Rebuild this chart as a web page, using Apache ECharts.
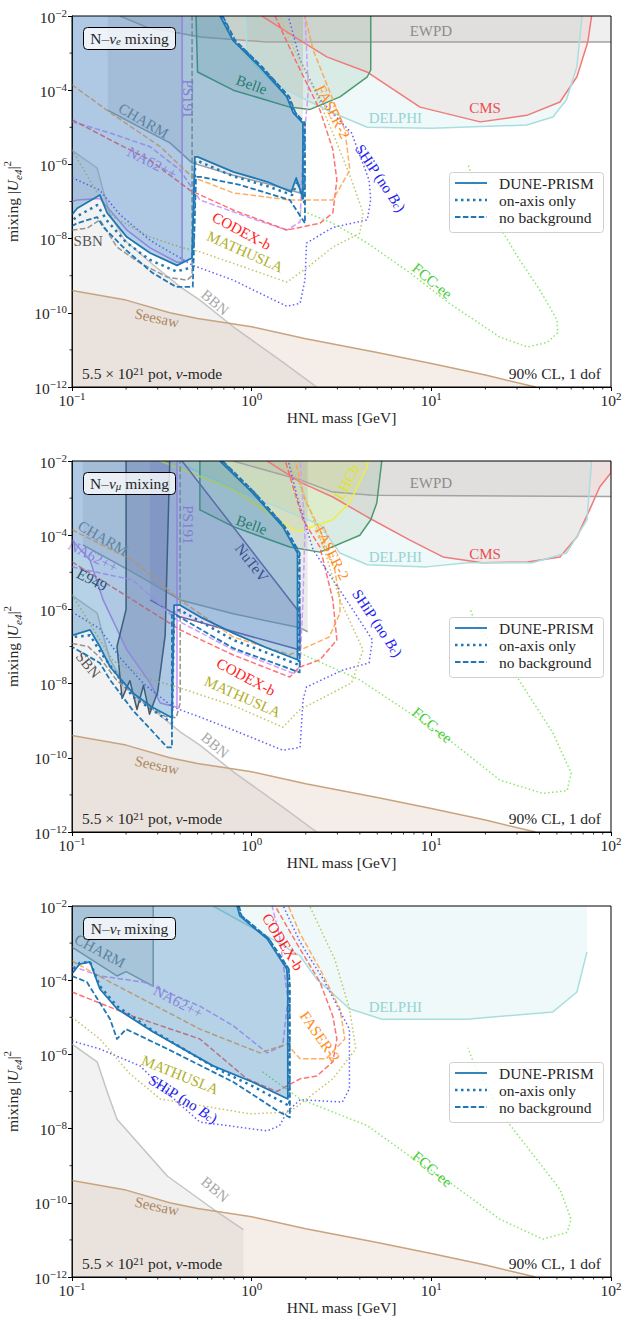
<!DOCTYPE html>
<html>
<head>
<meta charset="utf-8">
<script src="https://cdn.jsdelivr.net/npm/echarts@6.0.0/dist/echarts.min.js"></script>
<style>html,body{margin:0;padding:0;background:#fff;}#chart{width:623px;height:1318px;}</style>
</head>
<body>
<div id="chart"></div>
<script>
// ================= DATA (mass in GeV, |U|^2) =================
const xMinorTicks = [0.2,0.3,0.4,0.5,0.6,0.7,0.8,0.9,2,3,4,5,6,7,8,9,20,30,40,50,60,70,80,90];
const yMinorTicks = [1e-11,1e-9,1e-7,1e-5,1e-3];
const panelTitles = ['e', 'μ', 'τ'];

// shared
const seesaw = [[0.1,4e-10],[0.2,2.2e-10],[0.35,1e-10],[0.5,7e-11],[0.7,5.5e-11],[1,4.2e-11],[2,2e-11],[5,8.5e-12],[10,4.3e-12],[20,2.1e-12],[38,1e-12]];

// ---------- panel 1 : N-nu_e ----------
const bbn1 = [[0.1,2.4e-6],[0.138,8e-7],[0.149,2e-7],[0.163,4.4e-8],[0.197,9e-9],[0.272,2.3e-9],[0.4,5e-10],[0.515,2.2e-10],[0.79,4.2e-11],[1.49,4.7e-12],[2.3,1e-12]];
const ewpd1 = [[0.185,1e-2],[0.26,5e-3],[0.52,2.7e-3],[1.2,2e-3],[100,2e-3]];
const cms1 = [[1.14,1e-2],[1.86,2.2e-3],[2.62,7.9e-4],[4.38,3.1e-4],[8.65,3.5e-5],[18.7,1.4e-5],[34,2.1e-5],[52,4.8e-5],[64.6,2.3e-4],[74.3,2e-3],[78,1e-2]];
const delphi1 = [[0.92,1e-2],[0.95,8e-4],[1.31,1.6e-4],[1.86,6.6e-5],[2.8,2.5e-5],[4.4,1e-5],[10.1,9.5e-6],[34,1.15e-5],[47.5,1.9e-5],[56.5,5.5e-5],[64.6,4.3e-4],[69,1e-2]];
const belle1 = [[0.49,1e-2],[0.5,3.1e-4],[0.79,1e-4],[1.63,3.5e-5],[2.1,3e-5],[3.1,6.6e-5],[4.4,2.3e-4],[4.6,3.5e-4],[4.6,1e-2]];
const charm1 = [[0.158,1e-2],[0.158,2.9e-5],[0.239,1e-5],[0.351,3.8e-6],[0.466,1.1e-6],[0.79,5.1e-7],[1.22,3e-7],[1.86,1.7e-7],[1.93,1.7e-7],[1.93,1e-2]];
const ps191_1 = [[0.1,1e-2],[0.41,1e-2],[0.41,2.3e-9],[0.384,2.3e-9],[0.272,5.6e-9],[0.202,1.7e-8],[0.143,1.2e-7],[0.107,1.1e-7],[0.1,1e-7]];
const sbn1 = [[0.1,1.7e-8],[0.121,1.9e-8],[0.143,3.2e-8],[0.178,5.9e-9],[0.239,2.2e-9],[0.34,9.1e-10],[0.437,7.6e-10],[0.466,1e-9],[0.466,1e-2]];
const na62_1 = [[0.1,1.4e-5],[0.107,1.3e-5],[0.163,7e-6],[0.272,3e-6],[0.4,7e-7],[0.515,1.1e-7],[1.0,3.5e-8],[1.57,1.7e-8],[1.86,2.8e-8],[1.93,2.5e-6],[2.07,1e-4],[1.98,1e-2]];
const codex1 = [[0.1,1.6e-5],[0.163,4.6e-6],[0.272,1.3e-6],[0.454,2e-7],[0.79,5.9e-8],[1.57,1.7e-8],[1.86,2e-8],[2.4,2.6e-8],[2.83,4.9e-8],[2.98,3.8e-7],[2.83,2.5e-6],[2.4,2.9e-5],[1.75,6.5e-4],[1.35,1e-2]];
const faser1 = [[0.1,1.4e-4],[0.163,2.5e-5],[0.31,3e-6],[0.466,4.6e-7],[0.79,1.7e-7],[1.63,1.1e-7],[2.83,1.1e-7],[3.52,7e-7],[3.3,8.5e-6],[2.7,1e-4],[2.2,1.2e-3],[1.98,1e-2]];
const ship1 = [[0.1,4.3e-7],[0.107,3.8e-7],[0.143,2e-7],[0.185,4.4e-8],[0.272,9e-9],[0.47,1.9e-9],[0.79,7.6e-10],[1.22,2.7e-10],[1.57,1.5e-10],[1.86,1.8e-10],[1.98,7.6e-10],[2.02,7.6e-9],[2.83,2e-8],[4.4,3.2e-8],[4.6,1.1e-7],[4.5,3.8e-7],[3.6,7e-6],[2.4,5.5e-5],[1.86,6.5e-4],[1.6,1e-2]];
const math1 = [[0.1,2.5e-6],[0.138,1.7e-7],[0.17,3.8e-8],[0.272,1.1e-8],[0.415,5.6e-9],[0.515,4.4e-9],[1.57,6.7e-10],[2.02,1.6e-9],[2.83,5.9e-9],[4.0,1.4e-8],[4.17,4.9e-8],[3.6,3.8e-7],[2.83,7e-6],[2.2,1.2e-4],[1.63,2.2e-3],[1.43,1e-2]];
const fcc1 = [[1.86,5.9e-8],[2.83,2.6e-8],[4.4,7.6e-9],[7.6,1.2e-9],[12.6,1.8e-10],[24.1,2.2e-11],[34.3,1.2e-11],[44.2,1.6e-11],[50.6,2.9e-11],[50,6.5e-11],[40.2,4.1e-10],[31.1,2.6e-9],[24.1,2e-8],[18.6,1.1e-7],[17.1,3.8e-7],[16,1e-6]];
const dune1 = [[0.1,1e-2],[0.667,1e-2],[0.787,2.2e-3],[1.11,4.3e-4],[1.57,6.6e-5],[1.70,2.5e-5],[1.93,1.3e-5],[1.93,1.2e-7],[1.77,4.3e-7],[1.66,1.8e-7],[1.22,3.4e-7],[0.79,6.3e-7],[0.50,1.6e-6],[0.483,1.6e-6],[0.466,3e-9],[0.384,1.9e-9],[0.272,4.1e-9],[0.202,1.1e-8],[0.157,4.9e-8],[0.143,1.5e-7],[0.107,6.6e-8],[0.1,4.4e-8]];
const dune1OnAxis = [[0.68,1e-2],[0.8,2.2e-3],[1.13,4.3e-4],[1.6,6.6e-5],[1.73,2.5e-5],[1.96,1.3e-5],[1.96,9e-8],[1.8,3.5e-7],[1.68,1.5e-7],[1.22,2.6e-7],[0.79,4.8e-7],[0.51,1.2e-6],[0.485,1.2e-6],[0.47,1.7e-9],[0.38,1.3e-9],[0.27,2.7e-9],[0.2,8e-9],[0.157,3e-8],[0.138,8e-8],[0.107,4e-8],[0.1,3e-8]];
const dune1NoBkg = [[0.69,1e-2],[0.81,2.2e-3],[1.14,4.3e-4],[1.62,6.6e-5],[1.75,2.5e-5],[1.98,1.3e-5],[1.98,2.6e-8],[1.63,1.1e-7],[0.86,2.8e-7],[0.52,4.6e-7],[0.49,4.6e-7],[0.47,5e-10],[0.38,5e-10],[0.28,1.2e-9],[0.2,4.9e-9],[0.15,2e-8],[0.138,3.8e-8],[0.107,2.6e-8],[0.1,2.2e-8]];

// ---------- panel 2 : N-nu_mu ----------
const bbn2 = bbn1;
const ewpd2 = [[0.79,1e-2],[1.86,3.1e-3],[2.83,1.45e-3],[4.7,1.2e-3],[100,1.1e-3]];
const cms2 = [[1.22,1e-2],[1.86,2.7e-3],[2.83,1.07e-3],[4.4,3.1e-4],[7.6,7.4e-5],[11.6,2.6e-5],[19.2,1.8e-5],[34.3,1.9e-5],[52,2.6e-5],[64.6,8.9e-5],[76,4.8e-4],[86.5,2e-3],[100,4.8e-3],[100,1e-2]];
const delphi2 = [[0.374,1e-2],[0.44,6.9e-3],[1.0,1.1e-3],[2.4,1.9e-4],[3.1,3.3e-5],[4.4,1.6e-5],[9.4,1.4e-5],[15.8,1.8e-5],[36.5,1.8e-5],[56.5,3.3e-5],[73.5,2.6e-4],[78,1e-2]];
const belle2 = [[0.515,1e-2],[0.515,4.8e-4],[0.79,1.7e-4],[1.63,4.8e-5],[2.4,3.5e-5],[4.0,1e-4],[4.6,2.6e-4],[4.97,7.4e-4],[5.3,1e-2]];
const lhcb2 = [[0.31,1e-2],[0.79,1.7e-3],[1.7,1.4e-4],[1.86,1.3e-4],[2.83,2.6e-4],[3.5,7.4e-4],[4.4,6.9e-3],[4.45,1e-2]];
const charm2 = [[0.115,1e-2],[0.115,5.5e-5],[0.218,1e-5],[0.4,1.8e-6],[0.79,7.6e-7],[1.86,3.2e-7],[2.05,2.5e-7],[2.05,1e-2]];
const ps191_2 = [[0.1,1e-2],[0.384,1e-2],[0.384,2.3e-9],[0.31,3e-9],[0.272,1.05e-8],[0.202,8.1e-8],[0.149,1.8e-6],[0.126,2.1e-5],[0.1,7.4e-5]];
const e949_2 = [[0.2,1e-2],[0.2,1e-6],[0.178,1e-7],[0.19,4e-9],[0.21,1.2e-8],[0.23,2e-9],[0.25,9e-9],[0.27,1.5e-9],[0.3,6e-9],[0.33,2e-7],[0.35,1e-2]];
const nutev2 = [[0.272,1e-2],[0.41,1e-2],[1.86,7.9e-7],[1.86,8e-8],[0.4,6.3e-7],[0.272,1.8e-6]];
const sbn2 = [[0.1,1.2e-7],[0.123,1e-7],[0.143,5e-8],[0.178,1.2e-8],[0.25,3e-9],[0.33,1.3e-9],[0.38,1.2e-9],[0.4,3e-9],[0.4,1e-2]];
const na62_2 = [[0.1,1.4e-5],[0.218,6.2e-6],[0.384,5.1e-7],[0.79,8.1e-8],[1.7,1.9e-8],[1.86,2.9e-8],[1.93,1.8e-6],[1.98,1.4e-4],[1.86,1e-2]];
const codex2 = [[0.1,1.9e-5],[0.218,1.8e-6],[0.4,2.8e-7],[0.79,5.9e-8],[1.63,1.5e-8],[1.86,2.8e-8],[2.4,4.4e-8],[2.98,1.5e-7],[2.83,1.8e-6],[2.4,4.8e-5],[1.93,2.6e-4],[1.54,1e-2]];
const faser2 = [[0.1,1.4e-4],[0.218,2.1e-5],[0.4,1.8e-6],[0.79,1.8e-7],[1.63,6e-8],[2.7,1.8e-7],[3.1,7.9e-7],[3.1,1.8e-6],[2.9,1.15e-5],[2.4,1.4e-4],[1.98,8.9e-4],[1.75,1e-2]];
const ship2 = [[0.1,8.5e-7],[0.143,3e-7],[0.185,5e-8],[0.25,1e-8],[0.366,2.3e-9],[0.515,1.26e-9],[0.79,5.6e-10],[1.49,1.6e-10],[1.86,1.9e-10],[1.93,3.6e-9],[2.02,8.1e-9],[3.2,2.3e-8],[4.5,3.6e-8],[4.7,1.5e-7],[3.6,1.1e-6],[2.2,4e-5],[1.8,1e-3],[1.6,1e-2]];
const math2 = [[0.1,2.5e-6],[0.138,2e-7],[0.17,4e-8],[0.272,1.3e-8],[0.384,8.1e-9],[0.8,2.5e-9],[1.49,6.7e-10],[1.86,2e-9],[3.6,1.05e-8],[4.17,8.1e-8],[3.1,1.8e-6],[2.5,5e-5],[2.0,1e-3],[1.6,1e-2]];
const fcc2 = [[1.86,6.6e-8],[4.0,1.26e-8],[7.6,1.6e-9],[12.6,3e-10],[24.1,2.5e-11],[41.7,1.1e-11],[57,1.3e-11],[60,3.9e-11],[47.5,4.7e-10],[30,1.5e-8],[17.3,5.1e-7],[16.5,1e-6]];
const dune2 = [[0.1,1e-2],[0.667,1e-2],[1.01,1.4e-3],[1.49,1.7e-4],[1.8,3.3e-5],[1.8,4.4e-8],[1.22,9.1e-8],[0.79,2.3e-7],[0.515,6.3e-7],[0.4,1.3e-6],[0.37,1.3e-6],[0.36,1.2e-9],[0.28,2.3e-9],[0.218,5.6e-9],[0.163,2.8e-8],[0.143,9.8e-8],[0.126,2.8e-7],[0.1,2e-7]];
const dune2OnAxis = [[0.68,1e-2],[1.03,1.4e-3],[1.52,1.7e-4],[1.83,3.3e-5],[1.83,3.2e-8],[0.79,1.5e-7],[0.4,9.5e-7],[0.37,9.5e-7],[0.36,8.7e-10],[0.218,4.4e-9],[0.143,7.4e-8],[0.126,2e-7],[0.1,1.8e-7]];
const dune2NoBkg = [[0.69,1e-2],[1.04,1.4e-3],[1.53,1.7e-4],[1.85,3.3e-5],[1.85,2e-8],[0.79,9e-8],[0.38,7e-7],[0.36,7e-7],[0.36,1.9e-10],[0.34,1.9e-10],[0.218,1.9e-9],[0.163,1.25e-8],[0.143,3.6e-8],[0.1,9.8e-8]];

// ---------- panel 3 : N-nu_tau ----------
const bbn3 = [[0.1,1.9e-6],[0.138,6.3e-7],[0.157,9.8e-8],[0.178,1.8e-8],[0.34,5.2e-10],[0.61,6.8e-11],[0.9,1.9e-11]];
const delphi3 = [[0.61,1e-2],[1.22,1.55e-3],[1.86,4.5e-4],[2.3,1.07e-4],[3.5,1.7e-5],[5.3,8.9e-6],[15.8,8.9e-6],[47.5,1.4e-5],[64.6,4.8e-5],[73.5,5.8e-4],[73.5,1e-2]];
const charm3 = [[0.1,7.8e-4],[0.178,1.3e-4],[0.2,1.7e-4],[0.283,6.9e-5],[0.283,1e-2],[0.1,1e-2]];
const na62_3 = [[0.1,2.4e-4],[0.143,1.3e-4],[0.25,8.9e-5],[0.515,2e-5],[0.79,5.9e-6],[1.22,1.1e-6],[1.49,1.7e-6],[1.59,3.1e-5],[1.43,1.5e-3],[1.3,1e-2]];
const codex3 = [[0.1,4.8e-5],[0.218,1.07e-5],[0.515,2.6e-6],[0.94,2.2e-7],[1.38,1e-7],[1.86,2.2e-7],[2.3,2.6e-7],[2.83,6.3e-7],[2.98,2.6e-6],[2.83,1.07e-5],[2.4,8.9e-5],[1.86,6.9e-4],[1.35,1e-2]];
const faser3 = [[0.1,3.3e-4],[0.163,8.9e-5],[0.515,4.8e-6],[1.11,1.1e-6],[1.57,1.9e-6],[1.86,7.6e-7],[2.6,7.6e-7],[3.3,2.6e-6],[3.1,1.7e-5],[2.4,2e-4],[1.86,1.8e-3],[1.6,1e-2]];
const ship3 = [[0.1,2.3e-6],[0.143,1.4e-6],[0.239,4.9e-7],[0.35,8e-8],[0.515,1.5e-8],[1.22,8.7e-9],[1.43,1.2e-8],[1.57,2.8e-8],[1.86,6e-8],[3.2,5.2e-8],[3.5,1.2e-7],[3.5,4.8e-6],[2.5,1.07e-4],[1.86,1.07e-3],[1.5,1e-2]];
const math3 = [[0.1,1e-5],[0.143,2.6e-6],[0.21,3e-7],[0.31,6.3e-8],[0.98,2.5e-8],[1.63,2.8e-8],[2.83,2.2e-7],[3.8,1.4e-6],[3.5,1.7e-5],[2.9,3.7e-4],[2.1,1e-2]];
const fcc3 = [[1.15,3.4e-7],[1.86,6.3e-8],[4.4,1.2e-8],[7.6,1.8e-9],[12.6,3.6e-10],[24.1,3.6e-11],[41.7,1.05e-11],[57,1.6e-11],[60,3.6e-11],[52,2.3e-10],[24.1,2.8e-8],[17.1,6.3e-7],[16,1.5e-6]];
const dune3 = [[0.1,1e-2],[0.83,1e-2],[0.86,5.4e-3],[1.22,1.3e-3],[1.57,2e-4],[1.59,6.9e-5],[1.59,6.3e-8],[1.01,1.8e-7],[0.61,4.9e-7],[0.283,4e-6],[0.178,1.7e-5],[0.143,5.8e-5],[0.126,3.1e-4],[0.11,2.7e-4],[0.1,1.5e-4]];
const dune3OnAxis = [[0.84,1e-2],[0.87,5.4e-3],[1.24,1.3e-3],[1.6,2e-4],[1.62,6.9e-5],[1.62,4.1e-8],[1.01,1.4e-7],[0.64,4.1e-7],[0.283,4.3e-6],[0.178,2e-5],[0.143,6.9e-5],[0.126,3.1e-4],[0.11,2.9e-4],[0.1,1.8e-4]];
const dune3NoBkg = [[0.85,1e-2],[0.88,5.4e-3],[1.25,1.3e-3],[1.61,2e-4],[1.63,6.9e-5],[1.63,2e-8],[1.43,2.8e-8],[0.79,1.8e-7],[0.34,1.4e-6],[0.2,4.8e-6],[0.178,2.6e-6],[0.163,8.9e-6],[0.121,8.9e-5],[0.1,1.3e-4]];

// ---------- curve labels: [text, mass, |U|^2, angle, colour key] ----------
const labels1 = [['CHARM',0.25,1.5e-5,-30,'charm'],['NA62++',0.279,1.1e-6,-27,'na62'],['PS191',0.443,5.8e-5,-90,'ps'],['Belle',1.0,1.4e-4,-20,'belle'],['EWPD',9.95,4e-3,0,'ewpd'],['CMS',19.9,3.3e-5,0,'cms'],['DELPHI',6.3,1.8e-5,0,'del'],['FASER-2',2.83,2.6e-5,-63,'faser'],['SHIP',5.2,4.3e-7,-56,'ship'],['CODEX-b',0.88,1.6e-8,-28,'codex'],['MATHUSLA',0.92,4.4e-9,-24,'math'],['FCC-ee',10.1,7.2e-10,-40,'fcc'],['BBN',0.625,1.9e-10,-40,'bbn'],['Seesaw',0.297,7.2e-11,-12,'see'],['SBN',0.123,8.7e-9,0,'sbn']];
const labels2 = [['CHARM',0.149,8.3e-5,-30,'charm'],['NA62++',0.131,2.7e-5,-28,'na62'],['E949',0.129,6.2e-6,-28,'e949'],['PS191',0.443,1.9e-4,-90,'ps'],['NuTeV',1.0,1.8e-5,-52,'nutev'],['Belle',1.0,1.9e-4,-20,'belle'],['LHCb',3.4,2.7e-3,62,'lhcb'],['EWPD',9.95,2.6e-3,0,'ewpd'],['CMS',19.9,3.1e-5,0,'cms'],['DELPHI',6.3,2.6e-5,0,'del'],['FASER-2',2.8,3.3e-5,-63,'faser'],['SHIP',5.0,4.3e-7,-56,'ship'],['CODEX-b',0.93,1.5e-8,-28,'codex'],['MATHUSLA',0.89,4.4e-9,-24,'math'],['FCC-ee',10.1,7.6e-10,-40,'fcc'],['BBN',0.625,2.2e-10,-40,'bbn'],['Seesaw',0.297,6.3e-11,-12,'see'],['SBN',0.123,3.2e-8,-50,'sbn']];
const labels3 = [['CHARM',0.143,6.1e-4,-28,'charm'],['NA62++',0.39,2.6e-5,-28,'na62'],['CODEX-b',1.49,1.07e-3,-58,'codex'],['DELPHI',6.3,1.9e-5,0,'del'],['FASER-2',2.4,3e-6,-55,'faser'],['MATHUSLA',0.4,2.8e-7,-22,'math'],['SHIP',0.415,6.3e-8,-32,'ship'],['FCC-ee',10.1,8.1e-10,-40,'fcc'],['BBN',0.625,2.3e-10,-40,'bbn'],['Seesaw',0.297,8.1e-11,-12,'see']];

// ================= STYLE =================
const FONT = '"Liberation Serif","DejaVu Serif",serif';
const FS = 15.5;
const tops = [16, 461, 906];
const GH = 371, GL = 72, GW = 539;
const TXT = '#262626';
const LC = {charm:'#7d8a98', na62:'#c08af2', ps:'#b67ce6', belle:'#2f7f50', ewpd:'#8c8c8c', cms:'#ea4f4f', del:'#96d3d3', faser:'#ff8c1a', ship:'#2222ee', codex:'#ff2222', math:'#b0b02a', fcc:'#44cc33', bbn:'#a8a8a8', see:'#ad875e', sbn:'#555555', e949:'#2f3f4f', nutev:'#45387a', lhcb:'#e3e324'};
const DOT = [1.5, 2.5], DASH = [5.5, 2.4];

const series = [];
function pix(api, pts){ return pts.map(function(d){ return api.coord(d); }); }
function addPoly(g, pts, fill, z){
  series.push({type:'custom', xAxisIndex:g, yAxisIndex:g, clip:true, silent:true, z:z, data:[[1,1e-6]],
    renderItem:function(p, api){ return {type:'polygon', shape:{points:pix(api, pts)}, style:{fill:fill, stroke:'none'}}; }});
}
function addLine(g, pts, color, lw, dash, z){
  series.push({type:'custom', xAxisIndex:g, yAxisIndex:g, clip:true, silent:true, z:z, data:[[1,1e-6]],
    renderItem:function(p, api){ return {type:'polyline', shape:{points:pix(api, pts)}, style:{stroke:color, lineWidth:lw, lineDash:dash || null, lineJoin:'round', fill:'none'}}; }});
}
function richLab(c){
  return {t:{fill:c, fontSize:15, fontFamily:FONT}, i:{fill:c, fontSize:15, fontStyle:'italic', fontFamily:FONT}, sb:{fill:c, fontSize:10.5, fontStyle:'italic', fontFamily:FONT, lineHeight:8, verticalAlign:'bottom'}};
}
function addLabels(g, labs, z){
  series.push({type:'custom', xAxisIndex:g, yAxisIndex:g, clip:false, silent:true, z:z,
    data: labs.map(function(l){ return [l[1], l[2]]; }),
    renderItem:function(p, api){
      const l = labs[p.dataIndex];
      const pt = api.coord([api.value(0), api.value(1)]);
      const c = LC[l[4]];
      const txt = l[0] === 'SHIP' ? '{t|SHiP (no }{i|B}{sb|c}{t|)}' : '{t|' + l[0] + '}';
      return {type:'text', x:pt[0], y:pt[1], rotation:l[3]*Math.PI/180,
        style:{text:txt, rich:richLab(c), fill:c, fontSize:15, fontFamily:FONT, align:'center', verticalAlign:'middle', textAlign:'center', textVerticalAlign:'middle'}};
    }});
}
function addMinor(g){
  series.push({type:'custom', xAxisIndex:g, yAxisIndex:g, clip:false, silent:true, z:40,
    data: xMinorTicks.map(function(m){ return [m, 1e-12]; }),
    renderItem:function(p, api){ const pt = api.coord([api.value(0), api.value(1)]);
      return {type:'line', shape:{x1:pt[0], y1:pt[1], x2:pt[0], y2:pt[1]+2.5}, style:{stroke:'#000', lineWidth:0.8}}; }});
  series.push({type:'custom', xAxisIndex:g, yAxisIndex:g, clip:false, silent:true, z:40,
    data: yMinorTicks.map(function(u){ return [0.1, u]; }),
    renderItem:function(p, api){ const pt = api.coord([api.value(0), api.value(1)]);
      return {type:'line', shape:{x1:pt[0], y1:pt[1], x2:pt[0]-2.5, y2:pt[1]}, style:{stroke:'#000', lineWidth:0.8}}; }});
}
function addFrame(g){
  series.push({type:'custom', xAxisIndex:g, yAxisIndex:g, clip:false, silent:true, z:41, data:[[1,1e-6]],
    renderItem:function(p, api){ const a = api.coord([0.1,1e-2]), b = api.coord([100,1e-12]);
      return {type:'rect', shape:{x:a[0], y:a[1], width:b[0]-a[0], height:b[1]-a[1]}, style:{fill:'none', stroke:'#000', lineWidth:1}}; }});
}
function close(pts, tail){ return pts.concat(tail); }

// ---------- panel 1 ----------
addPoly(0, close(bbn1, [[0.1,1e-12]]), 'rgba(140,140,140,0.11)', 1);
addPoly(0, close(seesaw, [[0.1,1e-12]]), 'rgba(185,145,115,0.16)', 1);
addPoly(0, close(ewpd1, [[100,1e-2]]), 'rgba(120,120,120,0.12)', 1);
addPoly(0, cms1, 'rgba(240,120,120,0.13)', 1);
addPoly(0, delphi1, 'rgba(150,215,215,0.15)', 1);
addPoly(0, belle1, 'rgba(60,150,90,0.13)', 1);
addPoly(0, charm1, 'rgba(90,90,90,0.12)', 1);
addPoly(0, ps191_1, 'rgba(170,110,230,0.10)', 1);
addLine(0, bbn1, '#c4c4c4', 1.5, null, 2);
addLine(0, seesaw, '#c8a47e', 1.5, null, 2);
addLine(0, ewpd1, '#a3a3a3', 1.5, null, 2);
addLine(0, cms1, '#f07a7a', 1.5, null, 2);
addLine(0, delphi1, '#aadede', 1.5, null, 2);
addLine(0, belle1, '#4f9a6c', 1.5, null, 2);
addLine(0, charm1.slice(1, -1), '#93a0ab', 1.5, null, 2);
addLine(0, ps191_1.slice(1), '#c78ef2', 1.5, null, 2);
addLine(0, sbn1, '#949494', 1.5, DASH, 3);
addLine(0, na62_1, '#cf9cff', 1.5, DASH, 3);
addLine(0, codex1, 'rgba(255,90,90,0.85)', 1.5, DASH, 3);
addLine(0, faser1, 'rgba(255,160,70,0.85)', 1.5, DASH, 3);
addLine(0, ship1, '#6060ff', 1.5, DOT, 3);
addLine(0, math1, '#c4c466', 1.5, DOT, 3);
addLine(0, fcc1, '#8be86a', 1.5, DOT, 3);
addLabels(0, labels1, 4);
addPoly(0, dune1, 'rgba(31,119,180,0.33)', 5);
addLine(0, dune1.slice(1), '#1f77b4', 1.8, null, 6);
addLine(0, dune1OnAxis, '#1f77b4', 2.5, [2.5, 4], 6);
addLine(0, dune1NoBkg, '#1f77b4', 1.8, DASH, 6);

// ---------- panel 2 ----------
addPoly(1, close(bbn2, [[0.1,1e-12]]), 'rgba(140,140,140,0.11)', 1);
addPoly(1, close(seesaw, [[0.1,1e-12]]), 'rgba(185,145,115,0.16)', 1);
addPoly(1, close(ewpd2, [[100,1e-2]]), 'rgba(120,120,120,0.12)', 1);
addPoly(1, cms2, 'rgba(240,120,120,0.13)', 1);
addPoly(1, delphi2, 'rgba(150,215,215,0.15)', 1);
addPoly(1, belle2, 'rgba(60,150,90,0.13)', 1);
addPoly(1, lhcb2, 'rgba(240,240,80,0.16)', 1);
addPoly(1, charm2, 'rgba(90,90,90,0.12)', 1);
addPoly(1, ps191_2, 'rgba(170,110,230,0.10)', 1);
addPoly(1, e949_2, 'rgba(60,50,110,0.22)', 1);
addPoly(1, nutev2, 'rgba(120,90,190,0.16)', 1);
addLine(1, bbn2, '#c4c4c4', 1.5, null, 2);
addLine(1, seesaw, '#c8a47e', 1.5, null, 2);
addLine(1, ewpd2, '#a3a3a3', 1.5, null, 2);
addLine(1, cms2, '#f07a7a', 1.5, null, 2);
addLine(1, delphi2, '#aadede', 1.5, null, 2);
addLine(1, belle2, '#4f9a6c', 1.5, null, 2);
addLine(1, lhcb2, '#eeee44', 1.5, null, 2);
addLine(1, charm2.slice(1, -1), '#93a0ab', 1.5, null, 2);
addLine(1, ps191_2.slice(1), '#c78ef2', 1.5, null, 2);
addLine(1, e949_2, '#4a5563', 1.5, null, 2);
addLine(1, nutev2.slice(1), '#7a66a8', 1.5, null, 2);
addLine(1, sbn2, '#949494', 1.5, DASH, 3);
addLine(1, na62_2, '#cf9cff', 1.5, DASH, 3);
addLine(1, codex2, 'rgba(255,90,90,0.85)', 1.5, DASH, 3);
addLine(1, faser2, 'rgba(255,160,70,0.85)', 1.5, DASH, 3);
addLine(1, ship2, '#6060ff', 1.5, DOT, 3);
addLine(1, math2, '#c4c466', 1.5, DOT, 3);
addLine(1, fcc2, '#8be86a', 1.5, DOT, 3);
addLabels(1, labels2, 4);
addPoly(1, dune2, 'rgba(31,119,180,0.33)', 5);
addLine(1, dune2.slice(1), '#1f77b4', 1.8, null, 6);
addLine(1, dune2OnAxis, '#1f77b4', 2.5, [2.5, 4], 6);
addLine(1, dune2NoBkg, '#1f77b4', 1.8, DASH, 6);

// ---------- panel 3 ----------
addPoly(2, close(bbn3, [[0.9,1e-12],[0.1,1e-12]]), 'rgba(140,140,140,0.11)', 1);
addPoly(2, close(seesaw, [[0.1,1e-12]]), 'rgba(185,145,115,0.16)', 1);
addPoly(2, delphi3, 'rgba(150,215,215,0.15)', 1);
addPoly(2, charm3, 'rgba(90,90,90,0.12)', 1);
addLine(2, bbn3, '#c4c4c4', 1.5, null, 2);
addLine(2, seesaw, '#c8a47e', 1.5, null, 2);
addLine(2, delphi3.slice(0, -1), '#aadede', 1.5, null, 2);
addLine(2, charm3.slice(0, 5), '#93a0ab', 1.5, null, 2);
addLine(2, na62_3, '#cf9cff', 1.5, DASH, 3);
addLine(2, codex3, 'rgba(255,90,90,0.85)', 1.5, DASH, 3);
addLine(2, faser3, 'rgba(255,160,70,0.85)', 1.5, DASH, 3);
addLine(2, ship3, '#6060ff', 1.5, DOT, 3);
addLine(2, math3, '#c4c466', 1.5, DOT, 3);
addLine(2, fcc3, '#8be86a', 1.5, DOT, 3);
addLabels(2, labels3, 4);
addPoly(2, dune3, 'rgba(31,119,180,0.33)', 5);
addLine(2, dune3.slice(1), '#1f77b4', 1.8, null, 6);
addLine(2, dune3OnAxis, '#1f77b4', 2.5, [2.5, 4], 6);
addLine(2, dune3NoBkg, '#1f77b4', 1.8, DASH, 6);

[0,1,2].forEach(function(g){ addMinor(g); addFrame(g); });

// ================= AXES =================
const tickRich = {
  b:{fontSize:FS, fontFamily:FONT, color:TXT, lineHeight:18, verticalAlign:'bottom'},
  s:{fontSize:11, fontFamily:FONT, color:TXT, lineHeight:8, verticalAlign:'top'}
};
function expLabel(v){
  const e = Math.round(Math.log10(v));
  return '{b|10}{s|' + (e < 0 ? '\u2212' : '') + Math.abs(e) + '}';
}
const grids = [], xAxes = [], yAxes = [];
tops.forEach(function(t, i){
  grids.push({left:GL, top:t, width:GW, height:GH, containLabel:false, outerBoundsMode:'none'});
  xAxes.push({type:'log', logBase:10, gridIndex:i, min:0.1, max:100, interval:1,
    axisLine:{show:true, onZero:false, lineStyle:{color:'#000', width:1}},
    axisTick:{show:true, length:4, lineStyle:{color:'#000', width:1}},
    axisLabel:{formatter:expLabel, margin:3, rich:tickRich, showMinLabel:true, showMaxLabel:true},
    splitLine:{show:false}, minorTick:{show:false},
    name:'HNL mass [GeV]', nameLocation:'middle', nameGap:22,
    nameTextStyle:{fontFamily:FONT, fontSize:FS, color:TXT}});
  yAxes.push({type:'log', logBase:10, gridIndex:i, min:1e-12, max:1e-2, interval:2,
    axisLine:{show:true, onZero:false, lineStyle:{color:'#000', width:1}},
    axisTick:{show:true, length:4, lineStyle:{color:'#000', width:1}},
    axisLabel:{formatter:expLabel, margin:5, rich:tickRich, showMinLabel:true, showMaxLabel:true},
    splitLine:{show:false},
    name:'{r|mixing |}{i|U}{sb|e4}{r||}{sp|2}', nameLocation:'middle', nameGap:44,
    nameTextStyle:{rich:{
      r:{fontSize:FS, fontFamily:FONT, color:TXT, lineHeight:22},
      i:{fontSize:FS, fontFamily:FONT, fontStyle:'italic', color:TXT, lineHeight:22},
      sb:{fontSize:11, fontFamily:FONT, fontStyle:'italic', color:TXT, lineHeight:10, verticalAlign:'bottom'},
      sp:{fontSize:11, fontFamily:FONT, color:TXT, lineHeight:10, verticalAlign:'top'}}}});
});

// ================= ANNOTATIONS (title boxes, legends, notes) =================
const graphics = [];
function rt(c, sz){ return {
  r:{fill:c, fontSize:sz, fontFamily:FONT},
  i:{fill:c, fontSize:sz, fontFamily:FONT, fontStyle:'italic'},
  sb:{fill:c, fontSize:sz*0.7, fontFamily:FONT, fontStyle:'italic', lineHeight:8, verticalAlign:'bottom'},
  sp:{fill:c, fontSize:sz*0.7, fontFamily:FONT, lineHeight:8, verticalAlign:'top'}}; }
tops.forEach(function(t, i){
  graphics.push({type:'rect', z:100, shape:{x:83.5, y:t+11.5, width:92, height:22, r:4}, style:{fill:'rgba(255,255,255,0.78)', stroke:'#000', lineWidth:1}});
  graphics.push({type:'text', z:101, x:129.5, y:t+22.5, style:{text:'{r|N\u2013}{i|ν}{sb|' + panelTitles[i] + '}{r| mixing}', rich:rt(TXT,FS), align:'center', verticalAlign:'middle', fill:TXT, fontSize:FS, fontFamily:FONT}});
  graphics.push({type:'text', z:101, x:82, y:t+357, style:{text:'{r|5.5 × 10}{sp|21}{r| pot, }{i|ν}{r|-mode}', rich:rt(TXT,FS), align:'left', verticalAlign:'middle', fill:TXT, fontSize:FS, fontFamily:FONT}});
  graphics.push({type:'text', z:101, x:601, y:t+357, style:{text:'90% CL, 1 dof', align:'right', verticalAlign:'middle', fill:TXT, fontSize:FS, fontFamily:FONT}});
  // legend
  graphics.push({type:'rect', z:100, shape:{x:449.5, y:t+156.5, width:154, height:60, r:3}, style:{fill:'rgba(255,255,255,0.82)', stroke:'#d0d0d0', lineWidth:1}});
  const rows = [['DUNE-PRISM', null, 1.8], ['on-axis only', [2.5, 3.5], 2.5], ['no background', DASH, 1.8]];
  rows.forEach(function(r, k){
    const yy = t + 167 + k*17;
    graphics.push({type:'line', z:101, shape:{x1:455, y1:yy, x2:487, y2:yy}, style:{stroke:'#1f77b4', lineWidth:r[2], lineDash:r[1]}});
    graphics.push({type:'text', z:101, x:499, y:yy, style:{text:r[0], align:'left', verticalAlign:'middle', fill:TXT, fontSize:FS, fontFamily:FONT}});
  });
});

const chart = echarts.init(document.getElementById('chart'), null, {renderer:'svg'});
chart.setOption({
  animation:false,
  backgroundColor:'#ffffff',
  textStyle:{fontFamily:FONT},
  grid:grids, xAxis:xAxes, yAxis:yAxes,
  series:series,
  graphic:graphics
});
</script>
</body>
</html>
